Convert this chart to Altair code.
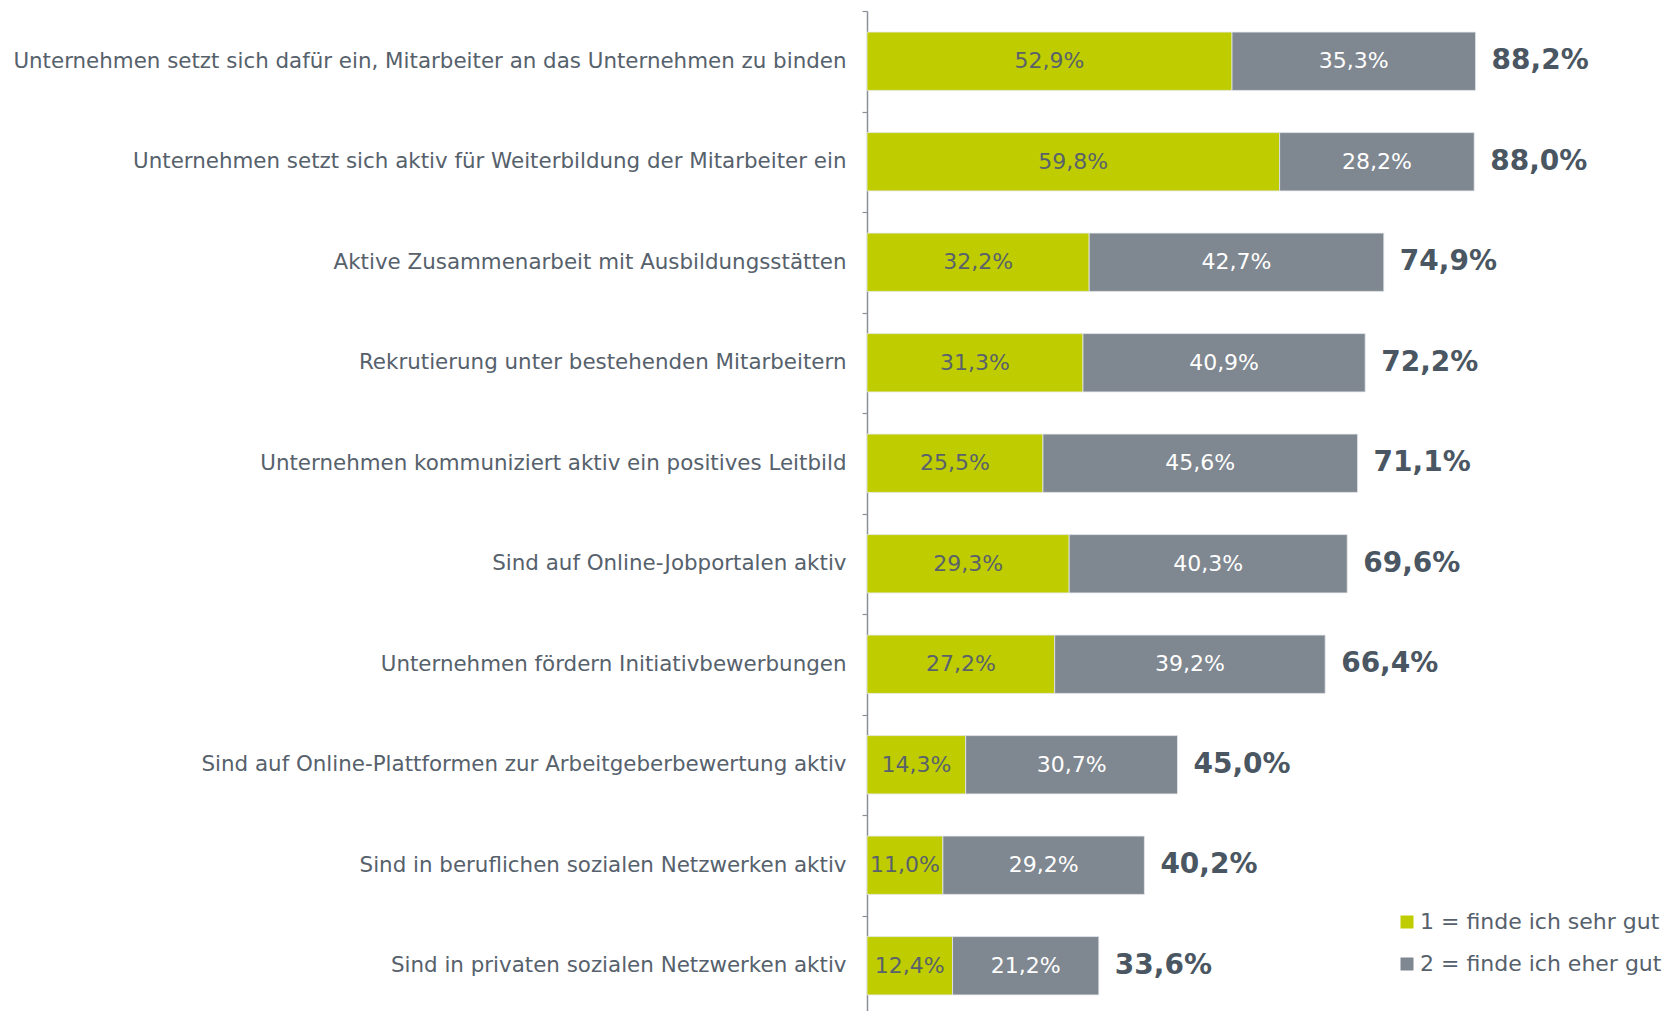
import altair as alt
import pandas as pd

categories = [
    "Unternehmen setzt sich dafür ein, Mitarbeiter an das Unternehmen zu binden",
    "Unternehmen setzt sich aktiv für Weiterbildung der Mitarbeiter ein",
    "Aktive Zusammenarbeit mit Ausbildungsstätten",
    "Rekrutierung unter bestehenden Mitarbeitern",
    "Unternehmen kommuniziert aktiv ein positives Leitbild",
    "Sind auf Online-Jobportalen aktiv",
    "Unternehmen fördern Initiativbewerbungen",
    "Sind auf Online-Plattformen zur Arbeitgeberbewertung aktiv",
    "Sind in beruflichen sozialen Netzwerken aktiv",
    "Sind in privaten sozialen Netzwerken aktiv",
]
sehr_gut = [52.9, 59.8, 32.2, 31.3, 25.5, 29.3, 27.2, 14.3, 11.0, 12.4]
eher_gut = [35.3, 28.2, 42.7, 40.9, 45.6, 40.3, 39.2, 30.7, 29.2, 21.2]
totals = [88.2, 88.0, 74.9, 72.2, 71.1, 69.6, 66.4, 45.0, 40.2, 33.6]
series = ["1 = finde ich sehr gut", "2 = finde ich eher gut"]
colors = ["#bfcd00", "#7f8790"]


def de(v):
    return f"{v:.1f}".replace(".", ",") + "%"


rows = []
for c, a, b in zip(categories, sehr_gut, eher_gut):
    rows.append(dict(cat=c, series=series[0], start=0.0, end=a, mid=a / 2, label=de(a)))
    rows.append(dict(cat=c, series=series[1], start=a, end=a + b, mid=a + b / 2, label=de(b)))
df = pd.DataFrame(rows)
tot = pd.DataFrame(dict(cat=categories, total=totals, label=[de(t) for t in totals]))

FONT = "DejaVu Sans"
TXT = "#56616c"

y = alt.Y(
    "cat:N",
    sort=categories,
    title=None,
    scale=alt.Scale(paddingInner=0.42, paddingOuter=0.21),
    axis=alt.Axis(
        labelLimit=1000,
        labelFontSize=21.4,
        labelFont=FONT,
        labelColor=TXT,
        labelPadding=16,
        labelOffset=21,
        tickSize=5,
        bandPosition=0,
        tickOffset=-21,
        tickColor="#8a9099",
        domainColor="#8a9099",
        domainWidth=1.5,
        tickWidth=1.2,
    ),
)
xs = alt.Scale(domain=[0, 100], nice=False, zero=True)

bars = alt.Chart(df).mark_bar(stroke="#e6e9ec", strokeWidth=0.8).encode(
    y=y,
    x=alt.X("start:Q", scale=xs, axis=None),
    x2="end:Q",
    color=alt.Color(
        "series:N",
        scale=alt.Scale(domain=series, range=colors),
        legend=alt.Legend(
            title=None,
            orient="none",
            legendX=529,
            legendY=900,
            symbolType="square",
            symbolSize=169,
            symbolStrokeWidth=0,
            labelFontSize=22,
            labelFont=FONT,
            labelColor=TXT,
            labelLimit=400,
            rowPadding=20,
            labelOffset=2,
        ),
    ),
)

inner = alt.Chart(df).mark_text(fontSize=22, font=FONT).encode(
    y=y,
    x=alt.X("mid:Q", scale=xs),
    text="label:N",
    color=alt.condition(alt.datum.series == series[0], alt.value("#59626b"), alt.value("white")),
)

total_text = alt.Chart(tot).mark_text(
    fontSize=28, font=FONT, fontWeight="bold", align="left", dx=16, color="#4a5662"
).encode(
    y=y,
    x=alt.X("total:Q", scale=xs),
    text="label:N",
)

chart = (
    alt.layer(bars, inner, total_text)
    .properties(
        width=690,
        height=1005,
        autosize=alt.AutoSizeParams(type="none"),
        padding={"left": 859, "top": 3, "right": 112, "bottom": 5},
    )
    .configure_view(stroke=None)
)

chart.save("out.html", embed_options={"renderer": "svg", "actions": False})
